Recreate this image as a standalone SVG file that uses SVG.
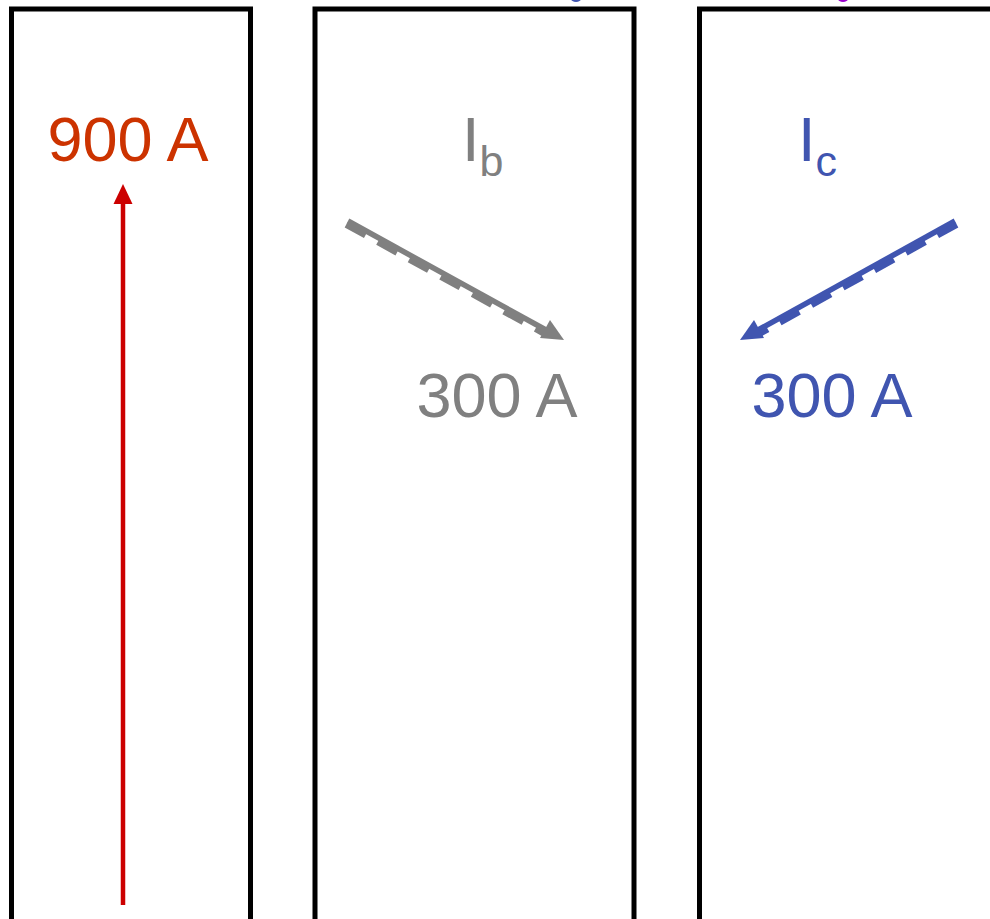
<svg xmlns="http://www.w3.org/2000/svg" width="990" height="919" viewBox="0 0 990 919">
<style>
.box{fill:#fff;stroke:#000;stroke-width:5}
.t{font-family:"Liberation Sans",Arial,sans-serif;font-size:63px}
.sub{font-size:43px}
</style>
<rect width="990" height="919" fill="#fff"/>
<g id="box-a"><rect class="box" x="11.5" y="9" width="239" height="930"/></g>
<g id="box-b"><rect class="box" x="315" y="9" width="319" height="930"/></g>
<g id="box-c"><rect class="box" x="699.5" y="9" width="320" height="930"/></g>
<g id="top-marks">
<ellipse cx="576" cy="-1" rx="5" ry="3" fill="#4055B0"/>
<ellipse cx="843" cy="-1" rx="5" ry="3" fill="#9900CC"/>
</g>
<g id="label-a"><text class="t" x="128" y="161" text-anchor="middle" fill="#CC3300">900 A</text></g>
<g id="label-b">
<text class="t" x="462" y="161" fill="#808080">I<tspan class="sub" dy="15">b</tspan></text>
<text class="t" x="497" y="417" text-anchor="middle" fill="#808080">300 A</text>
</g>
<g id="label-c">
<text class="t" x="798" y="161" fill="#4055B0">I<tspan class="sub" dy="15">c</tspan></text>
<text class="t" x="832" y="417" text-anchor="middle" fill="#4055B0">300 A</text>
</g>
<g id="connectors">
<line x1="123" y1="905" x2="123" y2="200" stroke="#CC0000" stroke-width="4.5"/>
<polygon points="123,184 132.5,204 113.5,204" fill="#CC0000"/>
<line x1="348" y1="221" x2="546" y2="330" stroke="#808080" stroke-width="5.5"/>
<line x1="346" y1="225" x2="544" y2="334" stroke="#808080" stroke-width="5.5" stroke-dasharray="22 14"/>
<polygon points="564,340 540,338 550,320" fill="#808080"/>
<line x1="955" y1="221" x2="758" y2="330" stroke="#4055B0" stroke-width="5.5"/>
<line x1="957" y1="225" x2="760" y2="334" stroke="#4055B0" stroke-width="5.5" stroke-dasharray="22 14"/>
<polygon points="740,340 754,320 764,338" fill="#4055B0"/>
</g>
</svg>
